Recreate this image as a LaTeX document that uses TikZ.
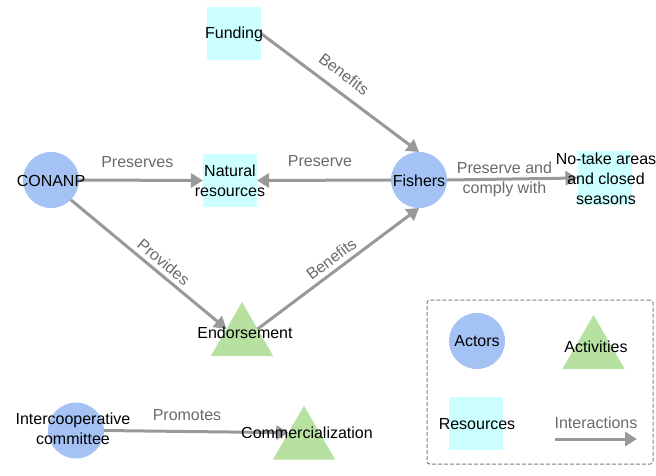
\documentclass[tikz,border=0pt]{standalone}
\usepackage{fontspec}
\setmainfont{Liberation Sans}
\usetikzlibrary{arrows.meta,shapes.geometric,calc}
\definecolor{actorc}{HTML}{A4C2F4}
\definecolor{resc}{HTML}{CCFFFF}
\definecolor{actc}{HTML}{B7E1A1}
\definecolor{edgec}{HTML}{999999}
\definecolor{lblc}{HTML}{6A6A6A}
\definecolor{boxc}{HTML}{808080}
\begin{document}
\begin{tikzpicture}[x=0.75pt,y=-0.75pt,
  font=\fontsize{12}{15}\selectfont,
  actorshape/.style={circle,fill=actorc,minimum size=42pt,inner sep=0pt,outer sep=0pt},
  resshape/.style={rectangle,fill=resc,minimum width=40.5pt,minimum height=40pt,inner sep=0pt,outer sep=0pt},
  actshape/.style={regular polygon,regular polygon sides=3,fill=actc,minimum size=54pt,inner sep=0pt,outer sep=0pt},
  txt/.style={align=center,inner sep=0pt,text=black},
  conn/.style={draw=edgec,line width=2.25pt,-{Triangle[length=9pt,width=10.5pt]}},
  lbl/.style={text=lblc,inner sep=1pt,align=center},
  legendbox/.style={draw=boxc,line width=0.75pt,dash pattern=on 3pt off 1.5pt,rounded corners=2pt,
    minimum width=169.5pt,minimum height=123pt,inner sep=0pt},
]
\useasboundingbox (0,0) rectangle (656,475);

% shapes
\node[resshape] (fund) at (234,33.5) {};
\node[actorshape] (conanp) at (51,180) {};
\node[resshape] (natres) at (230,180.5) {};
\node[actorshape] (fish) at (419,180) {};
\node[resshape] (notake) at (604.5,178) {};
\node[actshape] (endo) at (242,338) {};
\node[actorshape] (inter) at (76,430.5) {};
\node[actshape] (comm) at (304,441.7) {};

% legend
\node[legendbox] (legend) at (540,382) {};
\node[actorshape] (lactor) at (477,341) {};
\node[actshape] (lact) at (593.5,351) {};
\node[resshape] (lres) at (476,423.5) {};
\coordinate (ia) at (555,439);
\coordinate (ib) at (637,439);

% connectors
\draw[conn] (fund.east) -- node[lbl,sloped,above=6.6pt,pos=0.46] {Benefits} (fish.north);
\draw[conn] (conanp.east) -- node[lbl,above=7.4pt,pos=0.47] {Preserves} (natres.west);
\draw[conn] (fish.west) -- node[lbl,above=8.2pt,pos=0.53] {Preserve} (natres.east);
\draw[conn] (fish.east) -- node[lbl,pos=0.44] {Preserve and\\comply with} (notake.west);
\draw[conn] (conanp.-45) -- node[lbl,sloped,above=2pt,pos=0.55] {Provides} ($(endo.corner 1)!0.5!(endo.corner 2)$);
\draw[conn] ($(endo.corner 1)!0.5!(endo.corner 3)$) -- node[lbl,sloped,above=2.3pt,pos=0.5] {Benefits} (fish.south);
\draw[conn] (inter.east) -- node[lbl,above=6pt,pos=0.45] {Promotes} ($(comm.corner 1)!0.5!(comm.corner 2)$);
\draw[conn] (ia) -- node[lbl,above=6pt] {Interactions} (ib);

% texts
\node[txt] (fundt) at (234,34) {Funding};
\node[txt] (conanpt) at (51,181) {CONANP};
\node[txt] (natrest) at (230,181) {Natural\\resources};
\node[txt] (fisht) at (419,181) {Fishers};
\node[txt] (notaket) at (606,179) {No-take areas\\and closed\\seasons};
\node[txt] (endot) at (245,333) {Endorsement};
\node[txt] (intert) at (73,429) {Intercooperative\\committee};
\node[txt] (commt) at (307,433) {Commercialization};
\node[txt] (lactort) at (477,341) {Actors};
\node[txt] (lactt) at (596,347) {Activities};
\node[txt] (lrest) at (477,424) {Resources};
\end{tikzpicture}
\end{document}
